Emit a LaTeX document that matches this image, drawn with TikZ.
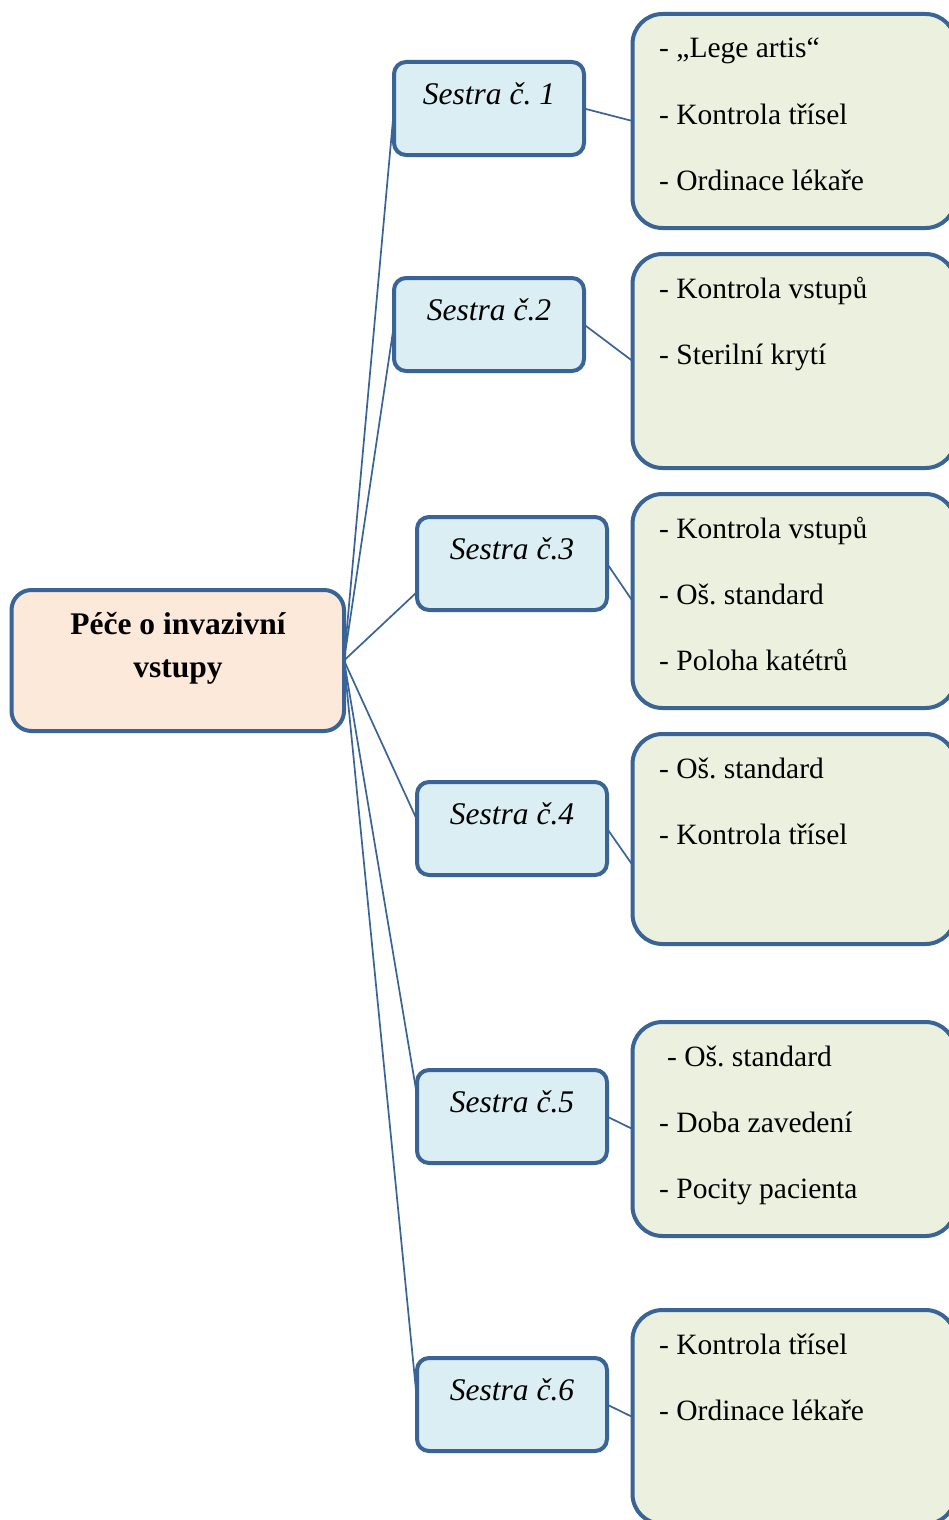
\documentclass[tikz,border=0pt]{standalone}
\usepackage{fontspec}
\setmainfont{Liberation Serif}
\usetikzlibrary{calc}
\frenchspacing

\definecolor{edge}{HTML}{3A6396}
\definecolor{rootfill}{HTML}{FDE9D9}
\definecolor{nursefill}{HTML}{DAEEF3}
\definecolor{taskfill}{HTML}{EBF1DE}

\tikzset{
  box/.style={draw=edge, line width=4pt, anchor=north west, inner sep=0pt, outer sep=0pt},
  rootbox/.style={box, fill=rootfill, rounded corners=20pt, minimum width=332.5pt, minimum height=141pt},
  nursebox/.style={box, fill=nursefill, rounded corners=12pt, minimum width=190pt, minimum height=93pt},
  taskbox/.style={box, fill=taskfill, rounded corners=30pt, minimum width=323pt, minimum height=214pt},
  link/.style={draw=edge, line width=1.7pt},
  roottext/.style={font=\fontsize{31.5}{36}\selectfont\bfseries, anchor=base, inner sep=0pt},
  nursetext/.style={font=\fontsize{31.5}{36}\selectfont\itshape, anchor=base, inner sep=0pt},
  tasktext/.style={font=\fontsize{29.5}{34}\selectfont, anchor=base west, inner sep=0pt},
}

\begin{document}
\begin{tikzpicture}[x=1pt, y=-1pt]
  \useasboundingbox (0,0) rectangle (949,1520);
  \clip (0,0) rectangle (949,1520);

  % central topic
  \node[rootbox] (root) at (11.5,590) {};
  \node[roottext] (rootA) at (178,634) {Péče o invazivní};
  \node[roottext] (rootB) at (178,677) {vstupy};

  % nurses
  \node[nursebox] (s1) at (394,62) {};
  \node[nursebox] (s2) at (394,278) {};
  \node[nursebox] (s3) at (417,517) {};
  \node[nursebox] (s4) at (417,782) {};
  \node[nursebox] (s5) at (417,1070) {};
  \node[nursebox] (s6) at (417,1358) {};
  \node[nursetext] (s1t) at ($(s1.north)+(0,42)$) {Sestra č. 1};
  \node[nursetext] (s2t) at ($(s2.north)+(0,42)$) {Sestra č.2};
  \node[nursetext] (s3t) at ($(s3.north)+(0,42)$) {Sestra č.3};
  \node[nursetext] (s4t) at ($(s4.north)+(0,42)$) {Sestra č.4};
  \node[nursetext] (s5t) at ($(s5.north)+(0,42)$) {Sestra č.5};
  \node[nursetext] (s6t) at ($(s6.north)+(0,42)$) {Sestra č.6};

  % task boxes
  \node[taskbox] (g1) at (632.5,14) {};
  \node[taskbox] (g2) at (632.5,254) {};
  \node[taskbox] (g3) at (632.5,494) {};
  \node[taskbox, minimum height=210pt] (g4) at (632.5,734) {};
  \node[taskbox] (g5) at (632.5,1022) {};
  \node[taskbox] (g6) at (632.5,1310) {};

  \node[tasktext] (g1a) at (659,58)  {- „Lege artis“};
  \node[tasktext] (g1b) at (659,124) {- Kontrola třísel};
  \node[tasktext] (g1c) at (659,190) {- Ordinace lékaře};

  \node[tasktext] (g2a) at (659,298) {- Kontrola vstupů};
  \node[tasktext] (g2b) at (659,364) {- Sterilní krytí};

  \node[tasktext] (g3a) at (659,538) {- Kontrola vstupů};
  \node[tasktext] (g3b) at (659,604) {- Oš. standard};
  \node[tasktext] (g3c) at (659,670) {- Poloha katétrů};

  \node[tasktext] (g4a) at (659,778) {- Oš. standard};
  \node[tasktext] (g4b) at (659,844) {- Kontrola třísel};

  \node[tasktext] (g5a) at (667,1066) {- Oš. standard};
  \node[tasktext] (g5b) at (659,1132) {- Doba zavedení};
  \node[tasktext] (g5c) at (659,1198) {- Pocity pacienta};

  \node[tasktext] (g6a) at (659,1354) {- Kontrola třísel};
  \node[tasktext] (g6b) at (659,1420) {- Ordinace lékaře};

  % connectors: centre to nurses
  \draw[link] (root.east) -- (s1.west);
  \draw[link] (root.east) -- (s2.west);
  \draw[link] (root.east) -- ($(s3.west)+(0,28.5)$);
  \draw[link] (root.east) -- ($(s4.west)+(0,-8.5)$);
  \draw[link] (root.east) -- ($(s5.west)+(0,-21)$);
  \draw[link] (root.east) -- ($(s6.west)+(0,-4)$);

  % connectors: nurses to tasks
  \draw[link] (s1.east) -- (g1.west);
  \draw[link] (s2.east) -- (g2.west);
  \draw[link] (s3.east) -- (g3.west);
  \draw[link] (s4.east) -- ($(g4.west)+(0,26)$);
  \draw[link] (s5.east) -- (g5.west);
  \draw[link] (s6.east) -- (g6.west);
\end{tikzpicture}
\end{document}
